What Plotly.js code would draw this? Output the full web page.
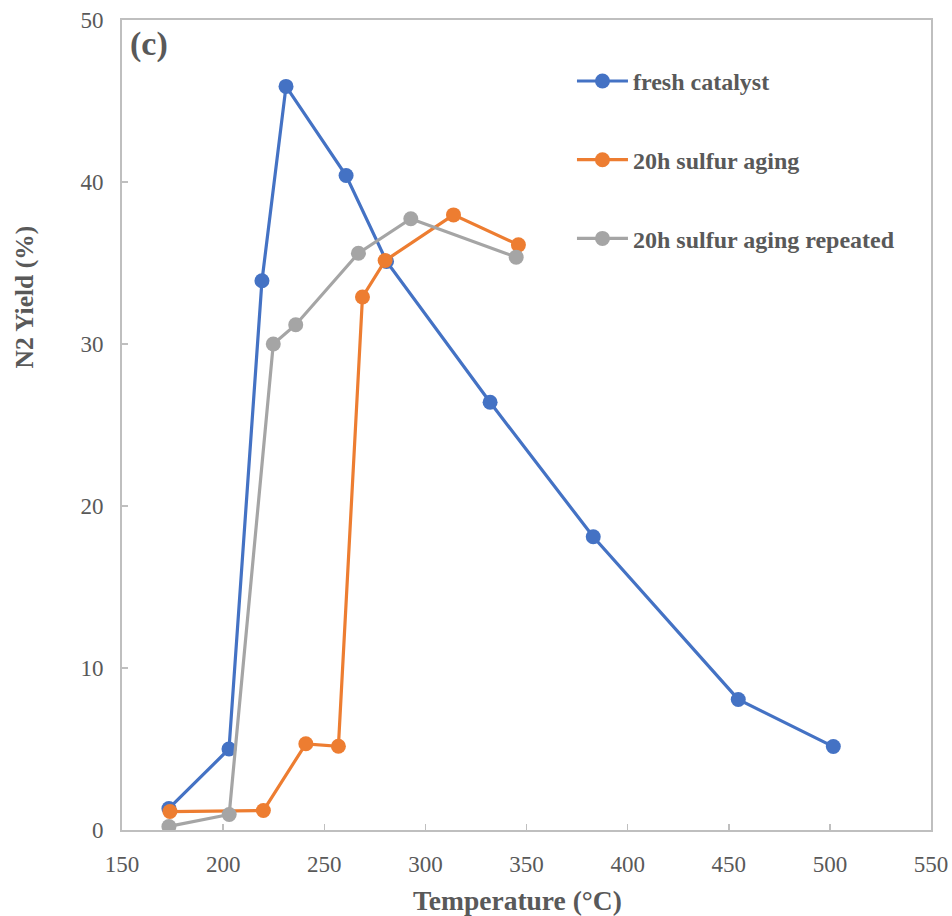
<!DOCTYPE html>
<html>
<head>
<meta charset="utf-8">
<script src="https://cdn.plot.ly/plotly-3.0.1.min.js"></script>
<style>
  html, body { margin: 0; padding: 0; background: #ffffff; }
  #chart { width: 952px; height: 916px; }
</style>
</head>
<body>
<div id="chart"></div>
<script>
// N2 yield vs. temperature for three catalyst states
const freshTemp  = [173.2, 202.9, 219.2, 231.1, 260.8, 280.8, 332.0, 383.0, 454.7, 501.7];
const freshYield = [1.33, 5.0, 33.9, 45.9, 40.4, 35.1, 26.4, 18.1, 8.06, 5.15];

const agedTemp  = [173.7, 219.9, 240.9, 257.0, 268.9, 280.1, 313.9, 346.0];
const agedYield = [1.14, 1.2, 5.32, 5.17, 32.9, 35.15, 37.97, 36.12];

const repeatTemp  = [173.2, 203.0, 224.8, 235.9, 266.9, 292.8, 344.9];
const repeatYield = [0.22, 0.96, 30.0, 31.19, 35.6, 37.73, 35.36];

const seriesNames = ['fresh catalyst', '20h sulfur aging', '20h sulfur aging repeated'];
const xTickVals = [150, 200, 250, 300, 350, 400, 450, 500, 550];
const yTickVals = [0, 10, 20, 30, 40, 50];

const FONT = 'Liberation Serif, Times New Roman, serif';
const TEXT = '#595959';
const AXIS = '#bfbfbf';

function series(x, y, name, color, group) {
  return {
    x: x, y: y, name: name, type: 'scatter', mode: 'lines+markers',
    legendgroup: group,
    line: { color: color, width: 3.2 },
    marker: { color: color, size: 15, symbol: 'circle' }
  };
}

const data = [
  series(freshTemp, freshYield, seriesNames[0], '#4472c4', 'g1'),
  series(agedTemp, agedYield, seriesNames[1], '#ed7d31', 'g2'),
  series(repeatTemp, repeatYield, seriesNames[2], '#a5a5a5', 'g3')
];

const axisCommon = {
  showgrid: false, zeroline: false,
  showline: true, linecolor: AXIS, linewidth: 2, mirror: true,
  ticks: 'inside', ticklen: 6, tickwidth: 1.5, tickcolor: AXIS,
  tickfont: { family: FONT, size: 23, color: TEXT },
  ticklabelstandoff: 12
};

const layout = {
  width: 952, height: 916,
  paper_bgcolor: '#ffffff', plot_bgcolor: '#ffffff',
  margin: { l: 122, r: 21, t: 20, b: 86, pad: 0 },
  font: { family: FONT, color: TEXT },
  showlegend: true,
  legend: {
    x: 0.5562, y: 0.952, xanchor: 'left', yanchor: 'top',
    bgcolor: 'rgba(0,0,0,0)',
    font: { family: FONT, size: 24, color: TEXT, weight: 'bold' },
    traceorder: 'grouped', tracegroupgap: 44.5,
    itemwidth: 51
  },
  xaxis: Object.assign({
    range: [150, 550], tickvals: xTickVals, ticktext: xTickVals.map(String)
  }, axisCommon),
  yaxis: Object.assign({
    range: [0, 50], tickvals: yTickVals, ticktext: yTickVals.map(String)
  }, axisCommon),
  annotations: [
    {
      text: '(c)', xref: 'paper', yref: 'paper', x: 0.008, y: 0.996,
      xanchor: 'left', yanchor: 'top', showarrow: false,
      font: { family: FONT, size: 34, color: TEXT, weight: 'bold' }
    },
    {
      // x-axis title
      text: 'Temperature (°C)', xref: 'paper', yref: 'paper',
      x: 0.489, y: -0.087, xanchor: 'center', yanchor: 'middle', showarrow: false,
      font: { family: FONT, size: 27.5, color: TEXT, weight: 'bold' }
    },
    {
      // y-axis title
      text: 'N2 Yield (%)', xref: 'paper', yref: 'paper', textangle: -90,
      x: -0.12, y: 0.6586, xanchor: 'center', yanchor: 'middle', showarrow: false,
      font: { family: FONT, size: 25.5, color: TEXT, weight: 'bold' }
    }
  ]
};

Plotly.newPlot('chart', data, layout, { displayModeBar: false, staticPlot: true });
</script>
</body>
</html>
